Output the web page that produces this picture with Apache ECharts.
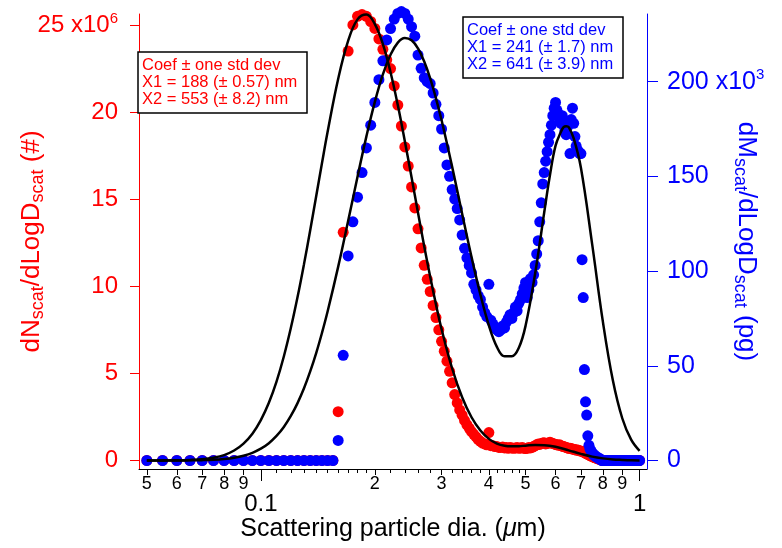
<!DOCTYPE html>
<html>
<head>
<meta charset="utf-8">
<script src="https://cdn.jsdelivr.net/npm/echarts@6/dist/echarts.min.js"></script>
<style>
html, body { margin: 0; padding: 0; background: #fff; }
#chart-panel { width: 782px; height: 548px; }
</style>
</head>
<body>
<div id="chart-panel"></div>
<script>
// particle diameter bins (nm)
var diamNm = [
    50, 55, 60, 65, 70, 75, 80, 85, 90, 95,
    100, 105, 110, 115, 120, 125, 130, 135, 140, 145,
    150, 155, 160, 165, 170, 175, 180, 185, 190, 195,
    200, 205, 210, 215, 220, 225, 230, 235, 240, 245,
    250, 255, 260, 265, 270, 275, 280, 285, 290, 295,
    300, 305, 310, 315, 320, 325, 330, 335, 340, 345,
    350, 355, 360, 365, 370, 375, 380, 385, 390, 395,
    400, 405, 410, 415, 420, 425, 430, 435, 440, 445,
    450, 455, 460, 465, 470, 475, 480, 485, 490, 495,
    500, 505, 510, 515, 520, 525, 530, 535, 540, 545,
    550, 555, 560, 565, 570, 575, 580, 585, 590, 595,
    600, 605, 610, 615, 620, 625, 630, 635, 640, 645,
    650, 655, 660, 665, 670, 675, 680, 685, 690, 695,
    700, 705, 710, 715, 720, 725, 730, 735, 740, 745,
    750, 755, 760, 765, 770, 775, 780, 785, 790, 795,
    800, 805, 810, 815, 820, 825, 830, 835, 840, 845,
    850, 855, 860, 865, 870, 875, 880, 885, 890, 895,
    900, 905, 910, 915, 920, 925, 930, 935, 940, 945,
    950, 955, 960, 965, 970, 975, 980, 985, 990, 995,
    1000
];

// dN/dLogD, units of 1e6
var dNscat = [
    0, 0, 0, 0, 0, 0, 0, 0, 0, 0,
    0, 0, 0, 0, 0, 0, 0, 0, 0, 0,
    0, 0, 2.8, 13.1, 23.5, 25.0, 25.5, 25.6, 25.5, 25.2,
    24.8, 24.2, 23.6, 23.0, 22.5, 21.5, 20.4, 19.2, 18.0, 16.9,
    15.7, 14.5, 13.3, 12.2, 11.2, 10.4, 9.7, 8.9, 8.2, 7.5,
    6.84, 6.27, 5.7, 5.12, 4.46, 3.78, 3.3, 2.9, 2.6, 2.3,
    2.05, 1.85, 1.65, 1.5, 1.35, 1.2, 1.1, 1.0, 0.95, 0.9,
    1.6, 0.85, 0.85, 0.8, 0.8, 0.75, 0.75, 0.78, 0.72, 0.75,
    0.7, 0.75, 0.72, 0.7, 0.72, 0.75, 0.7, 0.72, 0.75, 0.7,
    0.68, 0.7, 0.75, 0.72, 0.75, 0.8, 0.85, 0.9, 0.95, 0.92,
    0.98, 1.0, 1.02, 0.95, 0.98, 1.0, 1.05, 1.0, 0.98, 0.95,
    0.92, 0.9, 0.88, 0.9, 0.85, 0.82, 0.8, 0.78, 0.75, 0.72,
    0.7, 0.7, 0.68, 0.65, 0.65, 0.62, 0.6, 0.6, 0.58, 0.55,
    0.55, 0.52, 0.5, 0.45, 0.42, 0.38, 0.35, 0.32, 0.28, 0.25,
    0.22, 0.2, 0.17, 0.15, 0.12, 0.1, 0.08, 0.06, 0.04, 0.02,
    0, 0, 0, 0, 0, 0, 0, 0, 0, 0,
    0, 0, 0, 0, 0, 0, 0, 0, 0, 0,
    0, 0, 0, 0, 0, 0, 0, 0, 0, 0,
    0, 0, 0, 0, 0, 0, 0, 0, 0, 0,
    0
];

// dM/dLogD, units of 1e3 pg
var dMscat = [
    0, 0, 0, 0, 0, 0, 0, 0, 0, 0,
    0, 0, 0, 0, 0, 0, 0, 0, 0, 0,
    0, 0, 10.6, 55.5, 108, 126, 139, 152, 165, 177,
    189, 201, 211, 222, 228, 233, 236, 237, 236, 233,
    229, 224, 214, 207, 202, 200, 199, 194, 188, 182,
    175, 165, 156, 150, 143, 138, 133, 127, 119, 112,
    107, 103, 99, 93, 90, 87, 85, 81, 78, 76,
    93, 74, 72, 70, 69, 68, 69, 71, 70, 73,
    75, 77, 75, 78, 81, 79, 83, 85, 88, 91,
    94, 86, 90, 96, 94, 98, 103, 109, 116, 126,
    136, 146, 152, 158, 163, 168, 172, 177, 182, 186,
    189, 185, 183, 180, 178, 182, 177, 174, 172, 176,
    178, 162, 180, 186, 178, 171, 166, 164, 163, 162,
    162, 106, 86, 48, 31, 24, 13, 8, 6, 5,
    4, 3, 3, 2, 2, 1.5, 1, 1, 0.5, 0,
    0, 0, 0, 0, 0, 0, 0, 0, 0, 0,
    0, 0, 0, 0, 0, 0, 0, 0, 0, 0,
    0, 0, 0, 0, 0, 0, 0, 0, 0, 0,
    0, 0, 0, 0, 0, 0, 0, 0, 0, 0,
    0
];

// fitted curves (diameter in um, value)
var fitNDiam = [0.05, 0.055, 0.06, 0.065, 0.07, 0.075, 0.08, 0.085, 0.09, 0.095,
    0.1, 0.105, 0.11, 0.115, 0.12, 0.125, 0.13, 0.135, 0.14, 0.145,
    0.15, 0.16, 0.17, 0.18, 0.19, 0.2, 0.21, 0.22, 0.23, 0.24,
    0.25, 0.26, 0.27, 0.28, 0.29, 0.3, 0.32, 0.34, 0.36, 0.38,
    0.4, 0.42, 0.44, 0.46, 0.48, 0.5, 0.53, 0.56, 0.6, 0.65,
    0.7, 0.75, 0.8, 0.85, 0.9, 0.95, 1.0];
var fitNVal = [0, 0, 0.01, 0.03, 0.07, 0.16, 0.31, 0.57, 0.97, 1.54,
    2.32, 3.31, 4.53, 5.97, 7.6, 9.38, 11.27, 13.22, 15.17, 17.06,
    18.84, 21.9, 24.09, 25.32, 25.6, 25.05, 23.9, 22.29, 20.39, 18.33,
    16.26, 14.22, 12.3, 10.54, 8.96, 7.55, 5.28, 3.63, 2.48, 1.72,
    1.24, 0.97, 0.84, 0.81, 0.82, 0.85, 0.89, 0.88, 0.79, 0.58,
    0.38, 0.22, 0.12, 0.06, 0.03, 0.01, 0.005];

var fitMDiam = [0.05, 0.055, 0.06, 0.065, 0.07, 0.075, 0.08, 0.085, 0.09, 0.095,
    0.1, 0.105, 0.11, 0.115, 0.12, 0.125, 0.13, 0.135, 0.14, 0.145,
    0.15, 0.16, 0.17, 0.18, 0.19, 0.2, 0.21, 0.22, 0.23, 0.24,
    0.25, 0.26, 0.27, 0.28, 0.29, 0.3, 0.32, 0.34, 0.36, 0.38,
    0.4, 0.42, 0.44, 0.46, 0.48, 0.5, 0.53, 0.56, 0.58, 0.6,
    0.62, 0.63, 0.64, 0.65, 0.67, 0.7, 0.75, 0.8, 0.85, 0.9,
    0.95, 1.0];
var fitMVal = [0, 0.01, 0.03, 0.08, 0.19, 0.41, 0.81, 1.47, 2.52, 4.06,
    6.23, 9.15, 12.95, 17.7, 23.5, 30.3, 38.1, 47.0, 56.7, 67.3,
    78.5, 102.2, 126.4, 149.8, 171.1, 189.3, 203.8, 214.2, 220.6, 223,
    221.8, 217.5, 210.6, 201.7, 191.2, 179.7, 155.0, 130.2, 107.4, 87.5,
    71.3, 60, 55, 55, 59.5, 71.1, 98.7, 130.9, 150.7, 166.2,
    173.5, 176, 176.5, 176, 170, 154.5, 113.8, 73.3, 42.3, 22.3,
    11.0, 5.1];

// x-axis ticks (um)
var labelTicks = [0.05, 0.06, 0.07, 0.08, 0.09, 0.2, 0.3, 0.4, 0.5, 0.6, 0.7, 0.8, 0.9];
var labelText = ['5', '6', '7', '8', '9', '2', '3', '4', '5', '6', '7', '8', '9'];
var majorTicks = [0.1, 1];
var majorText = ['0.1', '1'];
var minorTicks = [0.11, 0.12, 0.13, 0.14, 0.15, 0.16, 0.17, 0.18, 0.19,
    0.22, 0.24, 0.26, 0.28, 0.32, 0.34, 0.36, 0.38, 0.42, 0.44, 0.46, 0.48];

var nTicks = [0, 5, 10, 15, 20, 25];
var mTicks = [0, 50, 100, 150, 200];

var FONT = 'Liberation Sans';
var RED = '#ff0000';
var BLUE = '#0000ff';
var X_MIN = -1.3217, X_MAX = 0.0196;

function lg(d) { return Math.log10(d); }

function pickLabel(ticks, texts) {
    return function (v) {
        var best = 0;
        for (var i = 1; i < ticks.length; i++) {
            if (Math.abs(lg(ticks[i]) - v) < Math.abs(lg(ticks[best]) - v)) best = i;
        }
        return texts[best];
    };
}

var redPts = diamNm.map(function (d, i) { return [lg(d / 1000), dNscat[i]]; });
var bluePts = diamNm.map(function (d, i) { return [lg(d / 1000), dMscat[i]]; });
var fitN = fitNDiam.map(function (d, i) { return [lg(d), fitNVal[i]]; });
var fitM = fitMDiam.map(function (d, i) { return [lg(d), fitMVal[i]]; });

function subRich(color) {
    return {
        m: { fontSize: 26, color: color, fontFamily: FONT, lineHeight: 30 },
        s: { fontSize: 18, color: color, fontFamily: FONT, lineHeight: 18, verticalAlign: 'bottom' }
    };
}
function supRich(color, size) {
    return {
        a: { fontSize: size, color: color, fontFamily: FONT, lineHeight: 28 },
        s: { fontSize: 15, color: color, fontFamily: FONT, lineHeight: 15, verticalAlign: 'top' }
    };
}

var baseX = {
    type: 'value', min: X_MIN, max: X_MAX, position: 'bottom',
    splitLine: { show: false }
};

option = {
    animation: false,
    backgroundColor: '#fff',
    grid: { left: 139, right: 135, top: 14, bottom: 79, containLabel: false, outerBoundsMode: 'none' },
    title: [{
        text: 'Coef \u00b1 one std dev\nX1 = 188 (\u00b1 0.57) nm\nX2 = 553 (\u00b1 8.2) nm',
        left: 138, top: 52,
        padding: [5, 10, 5, 4],
        borderColor: '#000', borderWidth: 1.5, backgroundColor: '#fff',
        textStyle: { color: RED, fontSize: 16.5, lineHeight: 17, fontWeight: 'normal', fontFamily: FONT }
    }, {
        text: 'Coef \u00b1 one std dev\nX1 = 241 (\u00b1 1.7) nm\nX2 = 641 (\u00b1 3.9) nm',
        left: 463, top: 17,
        padding: [5, 10, 5, 4],
        borderColor: '#000', borderWidth: 1.5, backgroundColor: '#fff',
        textStyle: { color: BLUE, fontSize: 16.5, lineHeight: 17, fontWeight: 'normal', fontFamily: FONT }
    }],
    xAxis: [
        Object.assign({}, baseX, {
            axisLine: { show: true, onZero: false, lineStyle: { color: '#000', width: 1 } },
            axisTick: { show: true, customValues: labelTicks.map(lg), length: 6, lineStyle: { color: '#000' } },
            axisLabel: {
                customValues: labelTicks.map(lg), formatter: pickLabel(labelTicks, labelText),
                fontSize: 18, color: '#000', margin: 6, fontFamily: FONT
            },
            name: 'Scattering particle dia. ({i|\u03bc}m)',
            nameLocation: 'middle', nameGap: 48, nameMoveOverlap: false,
            nameTextStyle: {
                fontSize: 25, color: '#000', fontFamily: FONT,
                rich: { i: { fontSize: 25, fontStyle: 'italic', color: '#000', fontFamily: FONT } }
            }
        }),
        Object.assign({}, baseX, {
            axisLine: { show: false, onZero: false },
            axisTick: { show: true, customValues: majorTicks.map(lg), length: 12, lineStyle: { color: '#000' } },
            axisLabel: {
                customValues: majorTicks.map(lg), formatter: pickLabel(majorTicks, majorText),
                fontSize: 24, color: '#000', margin: 23, fontFamily: FONT
            }
        }),
        Object.assign({}, baseX, {
            axisLine: { show: false, onZero: false },
            axisTick: { show: true, customValues: minorTicks.map(lg), length: 4, lineStyle: { color: '#000' } },
            axisLabel: { show: false }
        })
    ],
    yAxis: [{
        type: 'value', min: -0.49, max: 25.63, position: 'left',
        splitLine: { show: false },
        axisLine: { show: true, onZero: false, lineStyle: { color: RED, width: 1 } },
        axisTick: { show: true, customValues: nTicks, length: 9, lineStyle: { color: RED } },
        axisLabel: {
            customValues: nTicks, margin: 21, color: RED,
            formatter: function (v) { return v === 25 ? '{a|25 x10}{s|6}' : '{a|' + v + '}'; },
            rich: supRich(RED, 24)
        },
        name: '{m|dN}{s|scat}{m|/dLogD}{s|scat}{m| (#)}',
        nameLocation: 'middle', nameGap: 92, nameRotate: 90, nameMoveOverlap: false,
        nameTextStyle: { rich: subRich(RED) }
    }, {
        type: 'value', min: -4.49, max: 235.7, position: 'right',
        splitLine: { show: false },
        axisLine: { show: true, onZero: false, lineStyle: { color: BLUE, width: 1 } },
        axisTick: { show: true, customValues: mTicks, length: 11, lineStyle: { color: BLUE } },
        axisLabel: {
            customValues: mTicks, margin: 20, color: BLUE,
            formatter: function (v) { return v === 200 ? '{a|200 x10}{s|3}' : '{a|' + v + '}'; },
            rich: supRich(BLUE, 25)
        },
        name: '{m|dM}{s|scat}{m|/dLogD}{s|scat}{m| (pg)}',
        nameLocation: 'middle', nameGap: 84, nameRotate: -90, nameMoveOverlap: false,
        nameTextStyle: { rich: subRich(BLUE) }
    }],
    series: [{
        name: 'dN', type: 'scatter', xAxisIndex: 0, yAxisIndex: 0,
        data: redPts, symbolSize: 11, clip: false, z: 2,
        itemStyle: { color: RED, opacity: 1 }
    }, {
        name: 'dM', type: 'scatter', xAxisIndex: 0, yAxisIndex: 1,
        data: bluePts, symbolSize: 11, clip: false, z: 3,
        itemStyle: { color: BLUE, opacity: 1 }
    }, {
        name: 'fitN', type: 'line', xAxisIndex: 0, yAxisIndex: 0,
        data: fitN, smooth: 0.4, showSymbol: false, z: 4,
        lineStyle: { color: '#000', width: 2.5 }
    }, {
        name: 'fitM', type: 'line', xAxisIndex: 0, yAxisIndex: 1,
        data: fitM, smooth: 0.4, showSymbol: false, z: 4,
        lineStyle: { color: '#000', width: 2.5 }
    }]
};

var chart = echarts.init(document.getElementById('chart-panel'));
chart.setOption(option);
</script>
</body>
</html>
